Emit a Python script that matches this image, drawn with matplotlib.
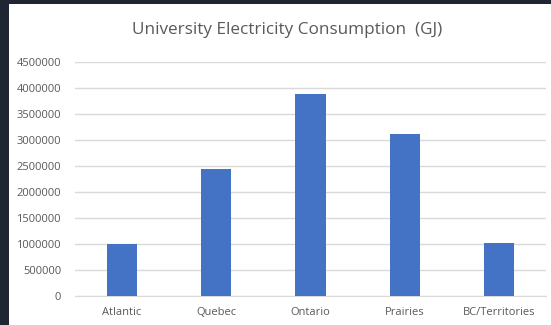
import matplotlib.pyplot as plt
from matplotlib.patches import Rectangle

# data
regions = ['Atlantic', 'Quebec', 'Ontario', 'Prairies', 'BC/Territories']
consumption = [1000000, 2440000, 3880000, 3120000, 1025000]
yticks = list(range(0, 4500001, 500000))

fig = plt.figure(figsize=(5.51, 3.25), dpi=100)
fig.patch.set_facecolor('#1f2532')
# white chart area (slide dark border on left/top)
fig.patches.append(Rectangle((9 / 551, 0), 1, 1 - 4 / 325, transform=fig.transFigure,
                             facecolor='white', edgecolor='none', zorder=-10))

ax = fig.add_axes([75 / 551, 29 / 325, 471 / 551, 234 / 325])
ax.set_facecolor('white')
ax.bar(regions, consumption, width=0.32, color='#4472c4', zorder=3)

ax.set_ylim(0, 4500000)
ax.set_xlim(-0.5, len(regions) - 0.5)
ax.set_yticks(yticks)
ax.set_yticklabels([str(v) for v in yticks])
ax.grid(axis='y', color='#d9d9d9', linewidth=1, zorder=0)
for s in ['top', 'right', 'left']:
    ax.spines[s].set_visible(False)
ax.spines['bottom'].set_color('#d9d9d9')
ax.tick_params(axis='both', length=0, labelsize=8, labelcolor='#595959')
ax.tick_params(axis='y', pad=10)
ax.tick_params(axis='x', pad=8)
for lab in ax.get_xticklabels() + ax.get_yticklabels():
    lab.set_family('Open Sans')

fig.text(287 / 551, 1 - 30 / 325, 'University Electricity Consumption  (GJ)',
         ha='center', va='center', fontsize=12.3, color='#595959', family='Open Sans')

fig.savefig('out.png', dpi=100, facecolor=fig.get_facecolor())
